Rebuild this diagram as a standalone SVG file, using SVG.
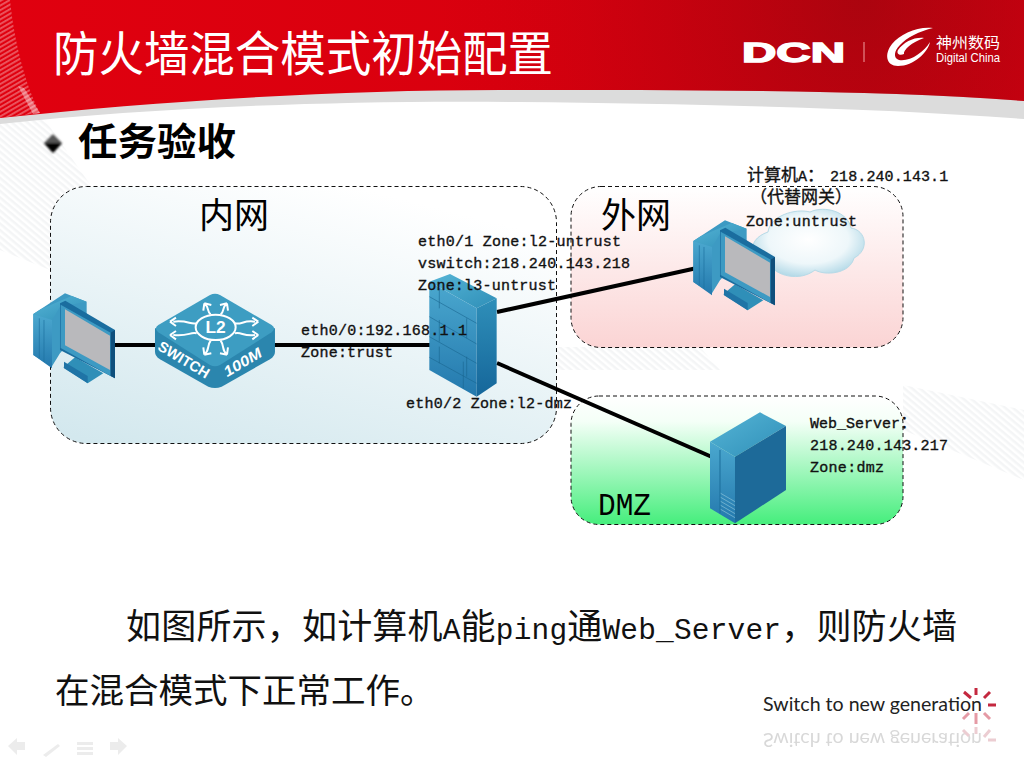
<svg xmlns="http://www.w3.org/2000/svg" xmlns:xlink="http://www.w3.org/1999/xlink" width="1024" height="768" viewBox="0 0 1024 768">
<style>
.lb{font-family:"Liberation Mono","Noto Sans CJK SC",monospace;font-size:15px;fill:#111;stroke:#111;stroke-width:.35}
.zone{stroke:#111;stroke-width:1;stroke-dasharray:4 3}
.link{stroke:#000;stroke-width:4;fill:none}
.cn{font-family:"Noto Sans CJK SC",sans-serif}
.w{fill:none;stroke:#fff}
.br{fill:none;stroke:#1a6690;stroke-width:1.800}
</style>
<defs>
<linearGradient id="red" x1="0" y1="0" x2="1" y2="0"><stop offset="0" stop-color="#e0000f"/><stop offset=".55" stop-color="#d8000e"/><stop offset=".85" stop-color="#cc000e"/><stop offset="1" stop-color="#d0000f"/></linearGradient>
<radialGradient id="redtop" gradientUnits="userSpaceOnUse" cx="860" cy="0" r="420"><stop offset="0" stop-color="#7a0a10" stop-opacity=".4"/><stop offset="1" stop-color="#b00010" stop-opacity="0"/></radialGradient>
<linearGradient id="gin" x1=".1" y1="1" x2=".6" y2="0"><stop offset="0" stop-color="#d3e8ee"/><stop offset="1" stop-color="#ffffff"/></linearGradient>
<linearGradient id="gout" x1="0" y1="0" x2="0" y2="1"><stop offset="0" stop-color="#ffffff"/><stop offset="1" stop-color="#fbd4d4"/></linearGradient>
<linearGradient id="gdmz" x1="0" y1="0" x2="0" y2="1"><stop offset="0" stop-color="#ffffff"/><stop offset=".2" stop-color="#f4fff7"/><stop offset="1" stop-color="#45ee7c"/></linearGradient>
<radialGradient id="gcloud" cx=".5" cy=".45" r=".6"><stop offset="0" stop-color="#ffffff"/><stop offset=".6" stop-color="#eef7fa"/><stop offset="1" stop-color="#a9d4e4"/></radialGradient>
<linearGradient id="gtop" x1="0" y1="0" x2="1" y2="1"><stop offset="0" stop-color="#56b5d6"/><stop offset="1" stop-color="#2f8fb8"/></linearGradient>
<linearGradient id="gleft" x1="0" y1="0" x2="0" y2="1"><stop offset="0" stop-color="#4ba8cf"/><stop offset="1" stop-color="#2378ad"/></linearGradient>
<linearGradient id="gright" x1="0" y1="0" x2="0" y2="1"><stop offset="0" stop-color="#2f8fb9"/><stop offset="1" stop-color="#15669a"/></linearGradient>
<pattern id="hatch" width="5" height="5" patternUnits="userSpaceOnUse" patternTransform="rotate(40)"><rect width="5" height="2.500" fill="#f4f5f6"/></pattern>
<pattern id="hatchR" width="4" height="4" patternUnits="userSpaceOnUse" patternTransform="rotate(-30)"><rect width="4" height="1.800" fill="#ffffff" opacity=".35"/></pattern>
<filter id="soft" x="-20%" y="-20%" width="140%" height="140%"><feGaussianBlur stdDeviation=".9"/></filter>
<filter id="soft2" x="-20%" y="-20%" width="140%" height="140%"><feGaussianBlur stdDeviation=".5"/></filter>
<g id="pc">
<polygon points="40,132 135,70 200,95 200,160 120,250 95,290 40,255" fill="#3d9ac3"/>
<polygon points="40,132 62,118 155,78 200,95 120,110 96,150" fill="url(#gtop)"/>
<polygon points="40,132 96,150 96,295 40,255" fill="url(#gleft)"/>
<path d="M58,145V265M72,150V275" stroke="#1d6f9f" stroke-width="2"/>
<polygon points="130,292 165,262 250,310 203,340" fill="#2f8fb8"/>
<polygon points="132,275 132,295 203,340 203,318" fill="#1f74a6"/>
<polygon points="120,100 136,92 285,180 285,325 120,240" fill="#1a6d9f"/>
<polygon points="122,104 272,188 272,318 122,234" fill="#3d9ac3"/>
<polygon points="135,118 270,197 270,300 135,226" fill="#b9b9bc"/>
<polygon points="272,188 285,180 285,325 272,318" fill="#0f4f7c"/>
</g>
</defs>
<rect width="1024" height="768" fill="#fff"/>
<g id="background">
<path d="M0,120L45,120L150,270L50,270L0,250Z" fill="url(#hatch)"/>
<path d="M557,347H700L720,370H557Z" fill="url(#hatch)"/>
<path d="M903,385L1024,410V480L903,430Z" fill="url(#hatch)"/>
<path d="M0,124C150,108 330,100 520,102C700,104 880,108 1024,119V90H0Z" fill="#dcdcdc"/>
<path d="M0,118C150,102 330,90 500,90C700,90 880,90 1024,101V0H0Z" fill="url(#red)"/>
<path d="M0,118C150,102 330,90 500,90C700,90 880,90 1024,101V0H0Z" fill="url(#redtop)"/>
<path d="M0,0H10C14,40 25,85 40,113L0,118Z" fill="url(#hatchR)"/>
<path d="M24,88L40,113L33,114L18,86Z" fill="#fff" opacity=".4"/>
</g>
<g id="zones">
<rect class="zone" x="50.500" y="186.500" width="506" height="257" rx="36" fill="url(#gin)"/>
<rect class="zone" x="571" y="186.500" width="332" height="161" rx="30" fill="url(#gout)"/>
<rect class="zone" x="571" y="396" width="332" height="128.500" rx="28" fill="url(#gdmz)"/>
</g>
<text x="53" y="71" class="cn" font-size="48" fill="#fff" textLength="500" lengthAdjust="spacingAndGlyphs">防火墙混合模式初始配置</text>
<g id="logo" fill="#fff">
<text x="742" y="62" font-family="'Liberation Sans',sans-serif" font-weight="bold" font-size="27" textLength="103" lengthAdjust="spacingAndGlyphs" stroke="#fff" stroke-width="1.4">DCN</text>
<rect x="863.500" y="42" width="1" height="20" fill="#f0a0a0"/>
<path d="M933,28C918,26 900,34 892,44C884,54 886,66 898,66C914,66 928,52 930,42C924,52 910,62 899,60C893,58 894,51 900,45C906,38 920,31 933,28Z"/>
<path d="M924,38C914,37 904,42 898,50C896,54 900,56 904,54C903,50 912,42 924,38Z"/>
<text x="936" y="48" class="cn" font-size="15" textLength="64" lengthAdjust="spacingAndGlyphs">神州数码</text>
<text x="936" y="62" font-family="'Liberation Sans',sans-serif" font-size="12" textLength="64" lengthAdjust="spacingAndGlyphs">Digital China</text>
</g>
<g id="bullet" filter="url(#soft)"><path d="M53,134L62,143L53,153L44,143Z" fill="#555"/><path d="M44,143H62L53,153Z" fill="#000"/></g>
<text x="78" y="155" class="cn" font-size="38" font-weight="700" fill="#000" textLength="158" lengthAdjust="spacingAndGlyphs">任务验收</text>
<text x="199" y="228" class="cn" font-size="35" fill="#000">内网</text>
<text x="601" y="228" class="cn" font-size="35" fill="#000">外网</text>
<text x="598" y="515" font-family="'Liberation Mono',monospace" font-size="31" fill="#000" textLength="53" lengthAdjust="spacingAndGlyphs">DMZ</text>
<g id="connectors">
<line class="link" x1="110" y1="345" x2="160" y2="345"/>
<line class="link" x1="270" y1="345" x2="432" y2="345"/>
<line class="link" x1="497" y1="312" x2="697" y2="268"/>
<line class="link" x1="497" y1="363" x2="712" y2="457"/>
</g>
<g id="cloud"><path d="M768,232C770,216 795,208 810,212C825,205 848,212 851,228C866,230 870,250 854,258C850,274 825,276 815,270C800,282 775,276 770,264C750,264 744,240 768,232Z" fill="url(#gcloud)" stroke="#b7dae7" stroke-width="1"/></g>
<g id="pc-left"><use xlink:href="#pc" href="#pc" transform="translate(20,270) scale(.3333)"/></g>
<g id="switch" transform="translate(20,270) scale(.3333)">
<path d="M405,175V245Q405,258 420,268L565,350Q585,358 605,350L750,268Q765,258 765,245V175Z" fill="#2b86ae"/>
<path d="M570,75Q585,68 600,75L755,165Q770,175 755,187L600,285Q585,292 570,285L415,187Q400,175 415,165Z" fill="#3d9dc2"/>
<ellipse cx="587" cy="172" rx="60" ry="38" class="w" style="stroke-width:6"/>
<text x="587" y="190" text-anchor="middle" font-family="'Liberation Sans',sans-serif" font-weight="bold" font-size="52" fill="#fff">L2</text>
<g class="w" style="stroke-width:6">
<path d="M530,160C510,165 505,150 460,155M450,155L468,143M450,155L468,168M530,190C510,185 505,200 460,195M450,195L468,183M450,195L468,208"/>
<path d="M645,160C665,165 670,150 705,155M715,155L697,143M715,155L697,168M645,190C665,185 670,200 705,195M715,195L697,183M715,195L697,208"/>
<path d="M572,133C560,125 570,115 553,100M553,100L550,122M553,100L574,105M602,133C614,125 604,115 621,100M621,100L624,122M621,100L600,105"/>
<path d="M572,212C560,228 570,240 553,254M553,254L550,232M553,254L574,250M602,212C614,228 604,240 621,254M621,254L624,232M621,254L600,250"/>
</g>
<text transform="translate(410,238) rotate(31)" font-family="'Liberation Sans',sans-serif" font-weight="bold" font-size="44" fill="#fff" textLength="172" lengthAdjust="spacingAndGlyphs">SWITCH</text>
<text transform="translate(622,322) rotate(-31)" font-family="'Liberation Sans',sans-serif" font-weight="bold" font-style="italic" font-size="44" fill="#fff" textLength="125" lengthAdjust="spacingAndGlyphs">100M</text>
</g>
<g id="firewall" transform="translate(400,220) scale(.3333)">
<polygon points="88,185 150,162 290,235 230,265" fill="url(#gtop)"/>
<polygon points="88,185 230,265 230,530 88,450" fill="url(#gleft)"/>
<polygon points="230,265 290,235 290,490 230,530" fill="url(#gright)"/>
<path class="br" d="M88,230L230,310M88,290L230,372M88,350L230,430M88,412L230,490M118,205V265M200,295V355M118,300V365M200,410V470M118,380V430M190,425V505"/>
</g>
<g id="pc-a"><use xlink:href="#pc" href="#pc" transform="translate(680,197) scale(.3333)"/></g>
<g id="server" transform="translate(680,400) scale(.3333)">
<polygon points="90,125 240,37 318,78 165,170" fill="url(#gtop)"/>
<polygon points="90,125 165,170 165,370 90,325" fill="url(#gleft)"/>
<polygon points="165,170 318,78 318,270 165,370" fill="#1d6a99"/>
<path d="M120,150V340" stroke="#1b6d9c" stroke-width="3"/>
<path d="M122,280L165,305M122,292L165,317M122,304L165,329M122,316L165,341M122,328L165,353" stroke="#8cc4da" stroke-width="2"/>
</g>
<g id="labels">
<text class="lb" x="301" y="335" textLength="166">eth0/0:192.168.1.1</text>
<text class="lb" x="301" y="357" textLength="92">Zone:trust</text>
<text class="lb" x="418" y="246" textLength="203">eth0/1 Zone:l2-untrust</text>
<text class="lb" x="418" y="268" textLength="212">vswitch:218.240.143.218</text>
<text class="lb" x="418" y="290" textLength="138">Zone:l3-untrust</text>
<text class="lb" x="406" y="408" textLength="166">eth0/2 Zone:l2-dmz</text>
<text class="lb" x="747" y="181" style="font-size:17px"><tspan>计算机</tspan><tspan style="font-size:15px">A</tspan>：<tspan x="830" style="font-size:15px" letter-spacing=".1">218.240.143.1</tspan></text>
<text class="lb" x="750" y="203" style="font-size:17px">（代替网关）</text>
<text class="lb" x="746" y="226" textLength="111">Zone:untrust</text>
<text class="lb" x="810" y="428"><tspan>Web_Server</tspan><tspan style="font-size:17px">：</tspan></text>
<text class="lb" x="810" y="450" textLength="138">218.240.143.217</text>
<text class="lb" x="810" y="472" textLength="74">Zone:dmz</text>
</g>
<text x="126" y="639" class="cn" font-size="35" fill="#111" textLength="831" lengthAdjust="spacing">如图所示，如计算机<tspan font-family="'Liberation Mono',monospace" font-size="29.500">A</tspan>能<tspan font-family="'Liberation Mono',monospace" font-size="29.500">ping</tspan>通<tspan font-family="'Liberation Mono',monospace" font-size="29.500">Web_Server</tspan>，则防火墙</text>
<text x="55" y="703" class="cn" font-size="34.500" fill="#111">在混合模式下正常工作。</text>
<g id="footer">
<text x="763" y="711" font-family="Lato,'Open Sans',sans-serif" font-size="20" fill="#222" textLength="219" lengthAdjust="spacingAndGlyphs">Switch to new generation</text>
<text transform="translate(763,733) scale(1,-1)" font-family="Lato,'Open Sans',sans-serif" font-size="20" fill="#aaa" opacity=".45" filter="url(#soft2)" textLength="219" lengthAdjust="spacingAndGlyphs">Switch to new generation</text>
<g stroke-width="3" fill="none">
<g stroke="#c4283f"><path d="M976,688V695M990,692L984,698M988,705H996M964,692L971,698"/></g>
<g stroke="#e59aa5"><path d="M976,713V724M984,713L990,719M963,719L969,713"/></g>
<g stroke="#eccdd2"><path d="M976,727V734M984,737L990,730M963,730L969,736M988,740H996"/></g>
</g>
</g>
<g id="nav" fill="#ececec" filter="url(#soft2)">
<path d="M8,746L17,738V742H25V750H17V755Z"/>
<path d="M43,755L58,744L60,746L46,757Z"/>
<path d="M77,742H93V745H77ZM77,747H93V750H77ZM77,752H93V755H77Z"/>
<path d="M127,746L118,738V742H110V750H118V755Z"/>
</g>
</svg>
